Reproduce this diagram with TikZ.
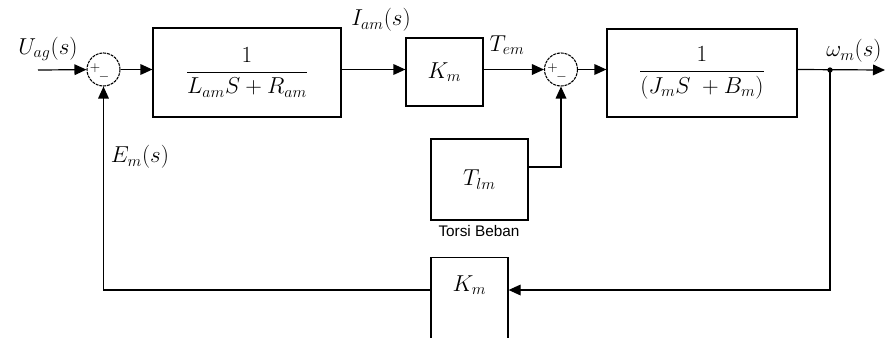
\documentclass[tikz,border=0pt]{standalone}
\usepackage{amsmath,amssymb}
\usepackage{fontspec}
\usepackage{tikz}
\usetikzlibrary{arrows.meta}
\newfontfamily\captfont{Liberation Sans}
\tikzset{
  blk/.style={draw, line width=0.9pt, inner sep=0.75pt, font=\fontsize{18}{21}\selectfont},
  sumnode/.style={draw, circle, line width=0.8pt, dash pattern=on 2.2pt off 0.7pt, minimum size=24.75pt, inner sep=0pt},
  lbl/.style={inner sep=0.75pt, font=\fontsize{18}{21}\selectfont},
  sgn/.style={inner sep=0pt, font=\normalsize},
  sig/.style={-{Triangle[length=9pt,width=8pt]}, line width=0.9pt},
}
\begin{document}
\begin{tikzpicture}[x=0.75pt,y=0.75pt,yscale=-1,xscale=1]
    \useasboundingbox (0,0) rectangle (886,337);

    % Blocks
    \node [blk, minimum width=141pt, minimum height=66.75pt] (gelec) at (247,72.5) {$\dfrac{1}{L_{am}S+R_{am}}$};
    \node [blk, minimum width=57.75pt, minimum height=51pt] (kt) at (444.5,72) {$K_m$};
    \node [blk, minimum width=142.5pt, minimum height=66pt] (gmech) at (702,73) {$\dfrac{1}{(J_mS\;+B_m)}$};
    \node [blk, minimum width=72.75pt, minimum height=60.75pt] (tload) at (479.5,179.5) {$T_{lm}$};
    \node [blk, minimum width=57.75pt, minimum height=66pt, anchor=north] (kb) at (469.5,257) {};

    % Summing points
    \node [sumnode] (sum1) at (103.5,69.5) {};
    \node [sumnode] (sum2) at (561,69.5) {};
    \node [sgn] (sum1p) at (95,68) {$+$};
    \node [sgn] (sum1m) at (104,77) {$-$};
    \node [sgn] (sum2p) at (552.5,68) {$+$};
    \node [sgn] (sum2m) at (561.5,77) {$-$};

    % Free ends
    \coordinate (uin) at (38,70);
    \coordinate (wout) at (885,70);
    \coordinate (pick) at (830,70);
    \coordinate (fb) at (830,290);

    % Signal lines
    \draw [sig] (uin) -- (sum1);
    \draw [sig] (sum1) -- (gelec.west |- sum1);
    \draw [sig] (gelec.east |- sum1) -- (kt.west |- sum1);
    \draw [sig] (kt.east |- sum1) -- (sum2);
    \draw [sig] (sum2) -- (gmech.west |- sum2);
    \draw [sig] (gmech.east |- sum2) -- (wout);
    \draw [sig] (pick) -- (fb) -- (kb.east |- fb);
    \draw [sig] (kb.west |- fb) -| (sum1.south);
    \draw [sig] ([yshift=-9.4pt]tload.east) -| (sum2.south);
    \fill (pick) circle (2pt);

    % Text Node
    \node [lbl] (uag) at (48,49) {$U_{ag}(s)$};
    % Text Node
    \node [lbl] (iam) at (381,20) {$I_{am}(s)$};
    % Text Node
    \node [lbl] (tem) at (507,45) {$T_{em}$};
    % Text Node
    \node [lbl, anchor=west] (wm) at (825,51) {$\omega_m(s)$};
    % Text Node
    \node [lbl] (em) at (140,157) {$E_m(s)$};
    % Text Node
    \node [lbl] (kbtxt) at (469.5,285) {$K_m$};
    % Text Node
    \node [inner sep=0.75pt, font=\captfont\fontsize{11.5}{13}\selectfont] (torsi) at (479,231) {Torsi Beban};

\end{tikzpicture}
\end{document}
